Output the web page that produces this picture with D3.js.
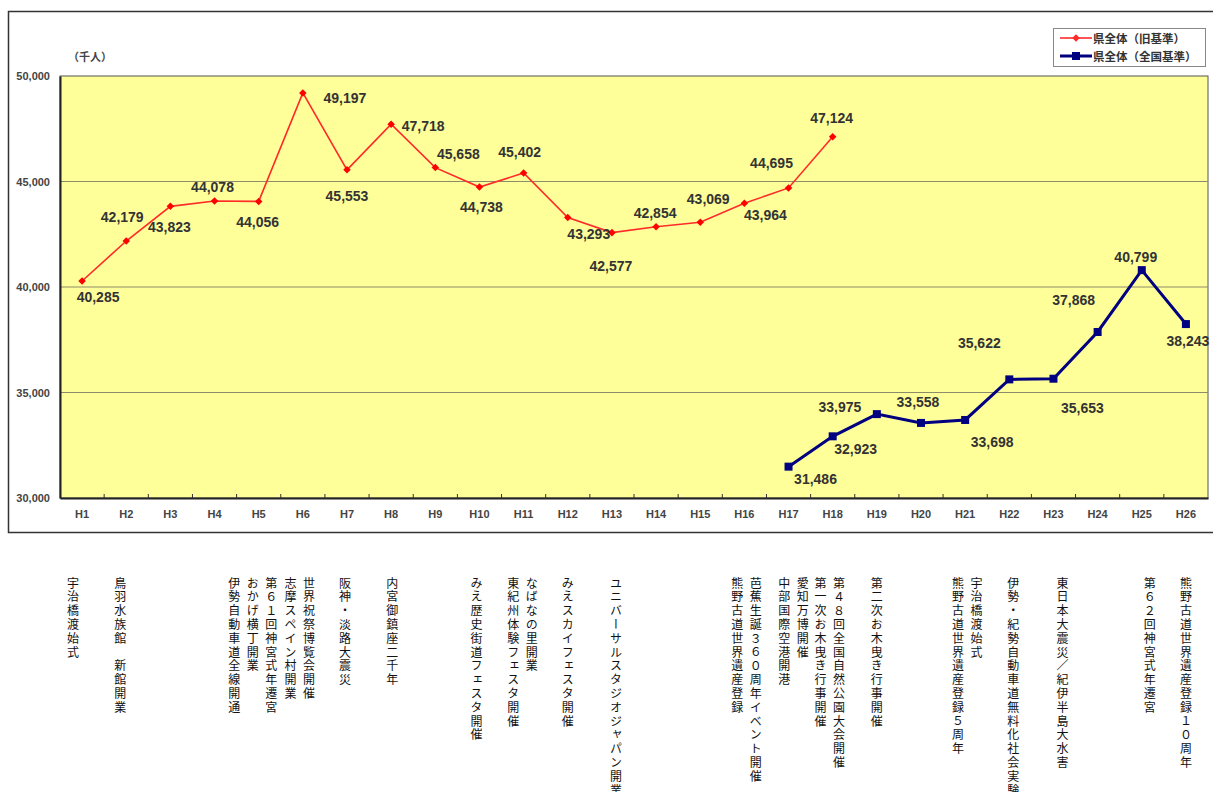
<!DOCTYPE html>
<html>
<head>
<meta charset="utf-8">
<script src="https://cdn.jsdelivr.net/npm/d3@7"></script>
<style>
  body { margin: 0; background: #fff; }
  svg { display: block; }
</style>
</head>
<body>
<div id="chart"></div>
<script>
// categories (Heisei years)
const years = ["H1","H2","H3","H4","H5","H6","H7","H8","H9","H10","H11","H12","H13",
  "H14","H15","H16","H17","H18","H19","H20","H21","H22","H23","H24","H25","H26"];

// 県全体(旧基準) H1-H18
const oldYears = years.slice(0, 18);
const oldValues = [40285, 42179, 43823, 44078, 44056, 49197, 45553, 47718, 45658, 44738,
  45402, 43293, 42577, 42854, 43069, 43964, 44695, 47124];

// 県全体(全国基準) H17-H26
const newYears = years.slice(16);
const newValues = [31486, 32923, 33975, 33558, 33698, 35622, 35653, 37868, 40799, 38243];

const yTicks = [30000, 35000, 40000, 45000, 50000];

// events below each year, one entry per vertical line (first = rightmost)
const events = [
  { year: "H1",  lines: ["宇治橋渡始式"] },
  { year: "H2",  lines: ["鳥羽水族館　新館開業"] },
  { year: "H5",  lines: ["第６１回神宮式年遷宮", "おかげ横丁開業", "伊勢自動車道全線開通"] },
  { year: "H6",  lines: ["世界祝祭博覧会開催", "志摩スペイン村開業"] },
  { year: "H7",  lines: ["阪神・淡路大震災"] },
  { year: "H8",  lines: ["内宮御鎮座二千年"] },
  { year: "H10", lines: ["みえ歴史街道フェスタ開催"] },
  { year: "H11", lines: ["なばなの里開業", "東紀州体験フェスタ開催"] },
  { year: "H12", lines: ["みえスカイフェスタ開催"] },
  { year: "H13", lines: ["ユニバーサルスタジオジャパン開業"] },
  { year: "H16", lines: ["芭蕉生誕３６０周年イベント開催", "熊野古道世界遺産登録"] },
  { year: "H17", lines: ["愛知万博開催", "中部国際空港開港"] },
  { year: "H18", lines: ["第４８回全国自然公園大会開催", "第一次お木曳き行事開催"] },
  { year: "H19", lines: ["第二次お木曳き行事開催"] },
  { year: "H21", lines: ["宇治橋渡始式", "熊野古道世界遺産登録５周年"] },
  { year: "H22", lines: ["伊勢・紀勢自動車道無料化社会実験"] },
  { year: "H23", lines: ["東日本大震災／紀伊半島大水害"] },
  { year: "H25", lines: ["第６２回神宮式年遷宮"] },
  { year: "H26", lines: ["熊野古道世界遺産登録１０周年"] }
];
// horizontal nudge of each event group from its year's centre (layout only)
const eventNudge = [-9, -6, -6, -3, -2, 1, -3, -1, 0, 4, 2, 5, -3, 0, 2, 4, 9, 8, 0];

// label placement relative to each point (layout only)
const oldLabelOffset = [[16,16],[-4,-24],[-1,21],[-2,-14],[-1,21],[42,5],[0,26],[32,2],[23,-14],
  [2,20],[-4,-21],[21,16],[-1,33],[-1,-14],[8,-23],[21,12],[-17,-25],[-1,-19]];
const newLabelOffset = [[27,12],[23,13],[-37,-7],[-3,-21],[27,22],[-30,-36],[29,29],[-24,-32],[-6,-13],[2,17]];

const W = 1213, H = 792;
const plot = { left: 60, right: 1208, top: 76, bottom: 498 };

const svg = d3.select("#chart").append("svg")
    .attr("width", W)
    .attr("height", H);

// outer chart frame
svg.append("rect")
    .attr("x", 8.5).attr("y", 11.5)
    .attr("width", 1220).attr("height", 521)
    .attr("fill", "#fff")
    .attr("stroke", "#333")
    .attr("stroke-width", 1.5);

const x = d3.scaleBand().domain(years).range([plot.left, plot.right]);
const y = d3.scaleLinear().domain([30000, 50000]).range([plot.bottom, plot.top]);
const cx = d => x(d) + x.bandwidth() / 2;

// plot area
svg.append("rect")
    .attr("x", plot.left).attr("y", plot.top)
    .attr("width", plot.right - plot.left).attr("height", plot.bottom - plot.top)
    .attr("fill", "#ffff99")
    .attr("stroke", "#555")
    .attr("stroke-width", 1);

// gridlines
svg.append("g")
  .selectAll("line")
  .data(yTicks.slice(1, -1))
  .join("line")
    .attr("x1", plot.left).attr("x2", plot.right)
    .attr("y1", d => y(d)).attr("y2", d => y(d))
    .attr("stroke", "#8c8c6a")
    .attr("stroke-width", 1);

// y axis
const yAxis = svg.append("g")
    .attr("transform", "translate(" + plot.left + ",0)")
    .call(d3.axisLeft(y).tickValues(yTicks).tickSize(0).tickPadding(10).tickFormat(d3.format(",")));
yAxis.select(".domain").attr("stroke", "#222").attr("stroke-width", 2);
yAxis.selectAll("text")
    .attr("font-family", "'Liberation Sans', Arial, sans-serif")
    .attr("font-size", 11)
    .attr("font-weight", "bold")
    .attr("fill", "#444");

// x axis
const xAxis = svg.append("g")
    .attr("transform", "translate(0," + plot.bottom + ")")
    .call(d3.axisBottom(x).tickSize(0).tickPadding(12));
xAxis.select(".domain").attr("stroke", "#222").attr("stroke-width", 2);
xAxis.selectAll("text")
    .attr("font-family", "'Liberation Sans', Arial, sans-serif")
    .attr("font-size", 11)
    .attr("font-weight", "bold")
    .attr("fill", "#444");
// boundary tick marks pointing into the plot
svg.append("g")
  .selectAll("line")
  .data(years.slice(1))
  .join("line")
    .attr("x1", d => x(d)).attr("x2", d => x(d))
    .attr("y1", plot.bottom).attr("y2", plot.bottom - 4)
    .attr("stroke", "#333");

// unit
svg.append("text")
    .attr("x", 68).attr("y", 61)
    .attr("font-family", "'Noto Sans CJK JP', sans-serif")
    .attr("font-size", 11)
    .attr("font-weight", "bold")
    .attr("fill", "#444")
    .text("（千人）");

// lines
const line = d3.line()
    .x(d => cx(d.year))
    .y(d => y(d.value));

const oldData = oldYears.map((yr, i) => ({ year: yr, value: oldValues[i], off: oldLabelOffset[i] }));
const newData = newYears.map((yr, i) => ({ year: yr, value: newValues[i], off: newLabelOffset[i] }));

svg.append("path")
    .datum(oldData)
    .attr("d", line)
    .attr("fill", "none")
    .attr("stroke", "#ff2a2a")
    .attr("stroke-width", 1.6);

svg.append("g")
  .selectAll("path")
  .data(oldData)
  .join("path")
    .attr("d", d3.symbol().type(d3.symbolDiamond2).size(36))
    .attr("transform", d => "translate(" + cx(d.year) + "," + y(d.value) + ")")
    .attr("fill", "#ff0000");

svg.append("path")
    .datum(newData)
    .attr("d", line)
    .attr("fill", "none")
    .attr("stroke", "#000080")
    .attr("stroke-width", 3);

svg.append("g")
  .selectAll("rect")
  .data(newData)
  .join("rect")
    .attr("x", d => cx(d.year) - 4).attr("y", d => y(d.value) - 4)
    .attr("width", 8).attr("height", 8)
    .attr("fill", "#000080");

// data labels
const fmt = d3.format(",");
svg.append("g")
  .selectAll("text")
  .data(oldData.concat(newData))
  .join("text")
    .attr("x", d => cx(d.year) + d.off[0])
    .attr("y", d => y(d.value) + d.off[1])
    .attr("text-anchor", "middle")
    .attr("dominant-baseline", "central")
    .attr("font-family", "'Liberation Sans', Arial, sans-serif")
    .attr("font-size", 14)
    .attr("font-weight", "bold")
    .attr("fill", "#333")
    .text(d => fmt(d.value));

// legend
const legend = svg.append("g");
legend.append("rect")
    .attr("x", 1053.5).attr("y", 28.5)
    .attr("width", 152).attr("height", 38)
    .attr("fill", "#fff")
    .attr("stroke", "#888");
const legendItems = [
  { label: "県全体（旧基準）", color: "#ff2a2a", width: 1.6, mark: "diamond" },
  { label: "県全体（全国基準）", color: "#000080", width: 3, mark: "square" }
];
legendItems.forEach((it, i) => {
  const ly = 38 + i * 18;
  legend.append("line")
      .attr("x1", 1060).attr("x2", 1092)
      .attr("y1", ly).attr("y2", ly)
      .attr("stroke", it.color).attr("stroke-width", it.width);
  if (it.mark == "diamond") {
    legend.append("path")
        .attr("d", d3.symbol().type(d3.symbolDiamond2).size(36))
        .attr("transform", "translate(1076," + ly + ")")
        .attr("fill", it.color);
  } else {
    legend.append("rect")
        .attr("x", 1072).attr("y", ly - 4)
        .attr("width", 8).attr("height", 8)
        .attr("fill", it.color);
  }
  legend.append("text")
      .attr("x", 1093).attr("y", ly)
      .attr("dominant-baseline", "central")
      .attr("font-family", "'Noto Sans CJK JP', sans-serif")
      .attr("font-size", 11.5)
      .attr("font-weight", "bold")
      .attr("fill", "#333")
      .text(it.label);
});

// vertical event annotations
const colStep = 18.5;
const ev = svg.append("g");
events.forEach((e, k) => {
  const n = e.lines.length;
  e.lines.forEach((t, j) => {
    // first line is rightmost
    const colX = cx(e.year) + eventNudge[k] + ((n - 1) / 2 - j) * colStep;
    ev.append("text")
        .attr("x", colX).attr("y", 577)
        .style("writing-mode", "vertical-rl")
        .style("letter-spacing", "1.8px")
        .attr("font-family", "'Noto Sans CJK JP', sans-serif")
        .attr("font-size", 12)
        .attr("fill", "#111")
        .text(t);
  });
});
</script>
</body>
</html>
